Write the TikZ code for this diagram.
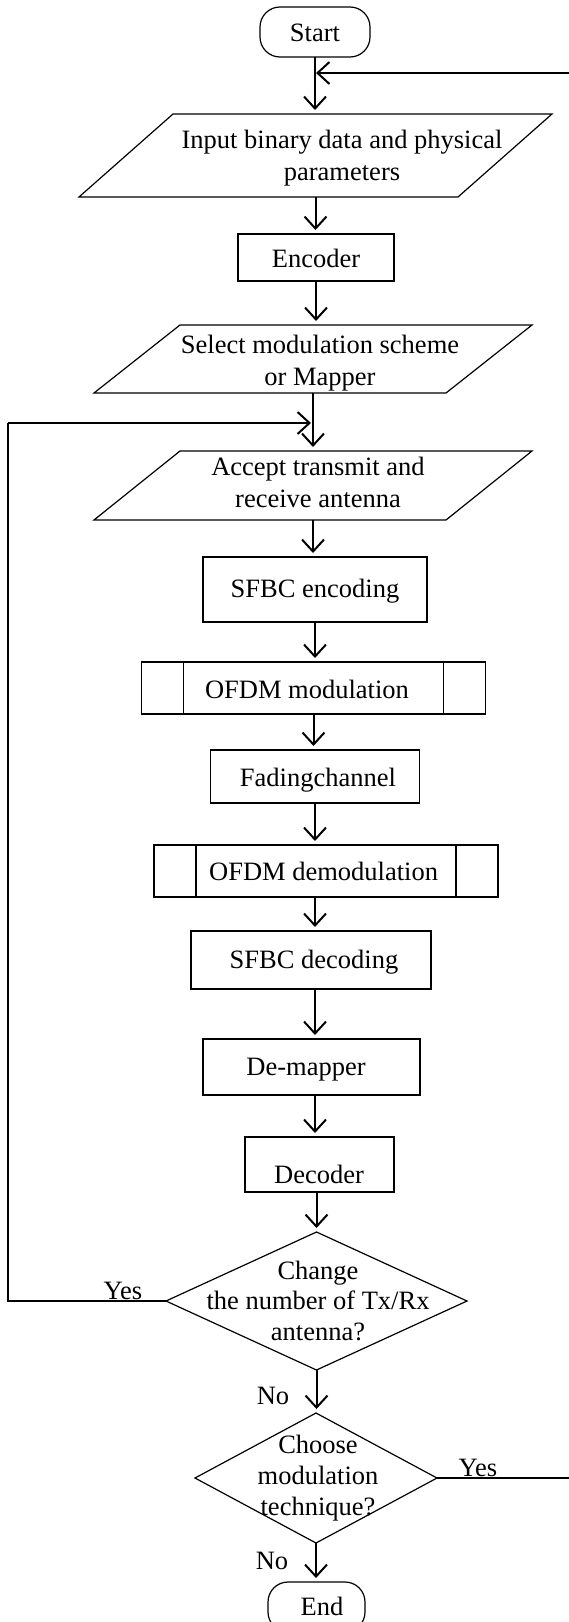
\documentclass[tikz,border=0pt]{standalone}
\usepackage{fontspec}
\setmainfont{Liberation Serif}
\usetikzlibrary{arrows.meta,calc,shapes.geometric}
\begin{document}
\begin{tikzpicture}[x=1pt,y=-1pt,
  every node/.style={inner sep=0pt,outer sep=0pt},
  txt/.style={align=center,font=\fontsize{26.5}{32}\selectfont},
  lbl/.style={font=\fontsize{26.5}{32}\selectfont},
  box/.style={draw,line width=1.2pt,rectangle},
  term/.style={draw,line width=1.2pt,rectangle,rounded corners=20pt},
  ghost/.style={rectangle},
  shapeline/.style={line width=1.2pt},
  dec/.style={draw,line width=1.2pt,diamond},
  arr/.style={line width=2pt,-{Straight Barb[length=12pt,width=22pt]},shorten >=4pt},
  harr/.style={line width=2pt,-{Straight Barb[length=12pt,width=22pt]}},
  link/.style={line width=1.2pt},
]
\useasboundingbox (0,0) rectangle (569,1622);
\clip (0,0) rectangle (569,1622);

% terminals
\node[term,minimum width=110pt,minimum height=50pt] (start) at (315,32) {};
\node[lbl] (startt) at (315,33) {Start};

% parallelogram 1
\node[ghost,minimum width=473pt,minimum height=83pt] (p1) at (315.5,155.5) {};
\draw[shapeline] (p1.south west) -- ([xshift=94pt]p1.north west) -- (p1.north east) -- ([xshift=-94pt]p1.south east) -- cycle;
\node[txt] (p1t) at (342,157.8) {Input binary data and physical\\parameters};

% encoder
\node[box,minimum width=156pt,minimum height=47pt] (enc) at (316,257.5) {};
\node[lbl] (enct) at (316,258) {Encoder};

% parallelogram 2
\node[ghost,minimum width=438pt,minimum height=68pt] (p2) at (313,359) {};
\draw[shapeline] (p2.south west) -- ([xshift=86pt]p2.north west) -- (p2.north east) -- ([xshift=-86pt]p2.south east) -- cycle;
\node[txt] (p2t) at (320,363) {Select modulation scheme\\or Mapper};

% parallelogram 3
\node[ghost,minimum width=438pt,minimum height=69pt] (p3) at (313,485.5) {};
\draw[shapeline] (p3.south west) -- ([xshift=86pt]p3.north west) -- (p3.north east) -- ([xshift=-86pt]p3.south east) -- cycle;
\node[txt] (p3t) at (318,482) {Accept transmit and\\receive antenna};

% SFBC encoding
\node[box,minimum width=224pt,minimum height=65pt] (sfe) at (315,589.5) {};
\node[lbl] (sfet) at (315,591) {SFBC encoding};

% OFDM modulation
\node[box,minimum width=344pt,minimum height=52pt] (om) at (313.5,688) {};
\draw[shapeline] ([xshift=42pt]om.north west) -- ([xshift=42pt]om.south west);
\draw[shapeline] ([xshift=-42pt]om.north east) -- ([xshift=-42pt]om.south east);
\node[lbl] (omt) at (307,689) {OFDM modulation};

% Fading channel
\node[box,minimum width=209pt,minimum height=53pt] (fc) at (315,776.5) {};
\node[lbl] (fct) at (318,780) {Fadingchannel};

% OFDM demodulation
\node[box,minimum width=344pt,minimum height=52pt] (od) at (326,871) {};
\draw[shapeline] ([xshift=42pt]od.north west) -- ([xshift=42pt]od.south west);
\draw[shapeline] ([xshift=-42pt]od.north east) -- ([xshift=-42pt]od.south east);
\node[lbl] (odt) at (323.6,871) {OFDM demodulation};

% SFBC decoding
\node[box,minimum width=240pt,minimum height=58pt] (sfd) at (311,960) {};
\node[lbl] (sfdt) at (314,962) {SFBC decoding};

% De-mapper
\node[box,minimum width=217pt,minimum height=56pt] (dm) at (311.5,1067) {};
\node[lbl] (dmt) at (306,1070) {De-mapper};

% Decoder
\node[box,minimum width=149pt,minimum height=55pt] (dc) at (319.5,1164.5) {};
\node[lbl] (dct) at (319,1174) {Decoder};

% decisions
\node[dec,minimum width=301pt,minimum height=138pt] (d1) at (316.5,1301) {};
\node[align=center,font=\fontsize{26.5}{30.5}\selectfont] (d1t) at (318,1300.5) {Change\\the number of Tx/Rx\\antenna?};
\node[dec,minimum width=242pt,minimum height=130pt] (d2) at (316,1478) {};
\node[align=center,font=\fontsize{26.5}{31}\selectfont] (d2t) at (318,1478) {Choose\\modulation\\technique?};

% End
\node[term,minimum width=97pt,minimum height=50pt] (endn) at (316.5,1607) {};
\node[lbl] (endt) at (322,1606) {End};

% labels
\node[lbl] (y1) at (123,1291) {Yes};
\node[lbl] (n1) at (273,1396) {No};
\node[lbl] (y2) at (478,1468) {Yes};
\node[lbl] (n2) at (272,1561) {No};

% main flow
\draw[arr] (start.south) -- (start.south |- p1.north);
\draw[arr] (p1.south) -- (p1.south |- enc.north);
\draw[arr] (enc.south) -- (enc.south |- p2.north);
\draw[arr] (p2.south) -- (p2.south |- p3.north);
\draw[arr] (p3.south) -- (p3.south |- sfe.north);
\draw[arr] (sfe.south) -- (sfe.south |- om.north);
\draw[arr] (om.south) -- (om.south |- fc.north);
\draw[arr] (fc.south) -- (fc.south |- od.north);
\draw[arr] (od.south -| fc.south) -- (fc.south |- sfd.north);
\draw[arr] (sfd.south -| fc.south) -- (fc.south |- dm.north);
\draw[arr] (dm.south -| fc.south) -- (fc.south |- dc.north);
\draw[arr] (dc.south -| d1.north) -- (d1.north);
\draw[arr] (d1.south) -- (d1.south |- d2.north);
\draw[arr] (d2.south) -- (d2.south |- endn.north);

% loop back: change antenna
\coordinate (lc1) at (8,1301);
\coordinate (lc2) at (8,423);
\draw[link] (d1.west) -- (lc1) -- (lc2);
\draw[harr,shorten >=2pt] (lc2) -- (p2.south |- lc2);

% loop back: choose modulation
\coordinate (rc1) at (590,1478);
\coordinate (rc2) at (590,73);
\draw[link] (d2.east) -- (rc1) -- (rc2);
\draw[harr,shorten >=1pt] (rc2) -- (start.south |- rc2);
\end{tikzpicture}
\end{document}
